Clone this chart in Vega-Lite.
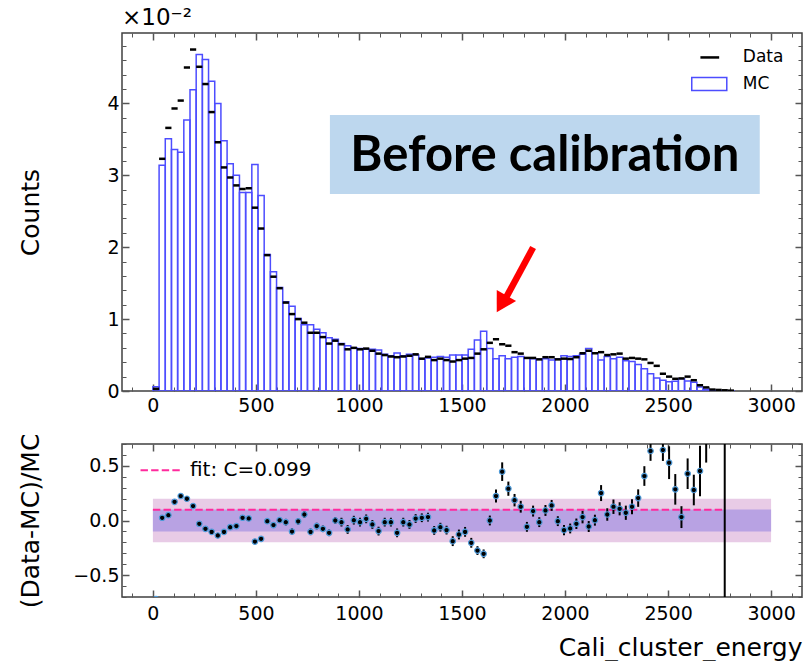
{
  "$schema": "https://vega.github.io/schema/vega-lite/v6.json",
  "background": "white",
  "padding": {"left": 17, "top": 6, "right": 0, "bottom": 0},
  "spacing": 13,
  "config": {
    "font": "DejaVu Sans",
    "view": {"stroke": "#404040", "strokeWidth": 1.5},
    "axis": {"domain": false, "grid": false, "tickColor": "#555555", "labelFont": "DejaVu Sans", "labelFontSize": 19, "labelColor": "#000000", "titleFont": "DejaVu Sans", "titleFontSize": 25, "titleFontWeight": "normal", "titleColor": "#000000", "labelOverlap": false, "labelFlush": false}
  },
  "datasets": {
    "hist": [
      {"e0":0,"e1":30,"mc":0.0006,"data":0.0003},
      {"e0":30,"e1":60,"mc":0.0314,"data":0.0323},
      {"e0":60,"e1":90,"mc":0.0351,"data":0.0366},
      {"e0":90,"e1":120,"mc":0.0336,"data":0.0393},
      {"e0":120,"e1":150,"mc":0.0332,"data":0.0404},
      {"e0":150,"e1":180,"mc":0.0377,"data":0.0450},
      {"e0":180,"e1":210,"mc":0.0419,"data":0.0475},
      {"e0":210,"e1":240,"mc":0.0468,"data":0.0451},
      {"e0":240,"e1":270,"mc":0.0461,"data":0.0427},
      {"e0":270,"e1":300,"mc":0.0431,"data":0.0388},
      {"e0":300,"e1":330,"mc":0.0400,"data":0.0346},
      {"e0":330,"e1":360,"mc":0.0348,"data":0.0311},
      {"e0":360,"e1":390,"mc":0.0316,"data":0.0297},
      {"e0":390,"e1":420,"mc":0.0300,"data":0.0286},
      {"e0":420,"e1":450,"mc":0.0276,"data":0.0281},
      {"e0":450,"e1":480,"mc":0.0276,"data":0.0282},
      {"e0":480,"e1":510,"mc":0.0315,"data":0.0255},
      {"e0":510,"e1":540,"mc":0.0272,"data":0.0226},
      {"e0":540,"e1":570,"mc":0.0190,"data":0.0189},
      {"e0":570,"e1":600,"mc":0.0166,"data":0.0159},
      {"e0":600,"e1":630,"mc":0.0144,"data":0.0143},
      {"e0":630,"e1":660,"mc":0.0124,"data":0.0123},
      {"e0":660,"e1":690,"mc":0.0118,"data":0.0107},
      {"e0":690,"e1":720,"mc":0.0101,"data":0.0100},
      {"e0":720,"e1":750,"mc":0.0092,"data":0.0095},
      {"e0":750,"e1":780,"mc":0.0092,"data":0.0081},
      {"e0":780,"e1":810,"mc":0.0086,"data":0.0081},
      {"e0":810,"e1":840,"mc":0.0081,"data":0.0075},
      {"e0":840,"e1":870,"mc":0.0074,"data":0.0066},
      {"e0":870,"e1":900,"mc":0.0072,"data":0.0070},
      {"e0":900,"e1":930,"mc":0.0066,"data":0.0065},
      {"e0":930,"e1":960,"mc":0.0063,"data":0.0058},
      {"e0":960,"e1":990,"mc":0.0060,"data":0.0060},
      {"e0":990,"e1":1020,"mc":0.0059,"data":0.0058},
      {"e0":1020,"e1":1050,"mc":0.0058,"data":0.0059},
      {"e0":1050,"e1":1080,"mc":0.0058,"data":0.0056},
      {"e0":1080,"e1":1110,"mc":0.0057,"data":0.0052},
      {"e0":1110,"e1":1140,"mc":0.0051,"data":0.0050},
      {"e0":1140,"e1":1170,"mc":0.0049,"data":0.0048},
      {"e0":1170,"e1":1200,"mc":0.0053,"data":0.0047},
      {"e0":1200,"e1":1230,"mc":0.0049,"data":0.0048},
      {"e0":1230,"e1":1260,"mc":0.0051,"data":0.0049},
      {"e0":1260,"e1":1290,"mc":0.0050,"data":0.0051},
      {"e0":1290,"e1":1320,"mc":0.0044,"data":0.0045},
      {"e0":1320,"e1":1350,"mc":0.0046,"data":0.00475},
      {"e0":1350,"e1":1380,"mc":0.0047,"data":0.0043},
      {"e0":1380,"e1":1410,"mc":0.0048,"data":0.0045},
      {"e0":1410,"e1":1440,"mc":0.0047,"data":0.0043},
      {"e0":1440,"e1":1470,"mc":0.0050,"data":0.0041},
      {"e0":1470,"e1":1500,"mc":0.0050,"data":0.0043},
      {"e0":1500,"e1":1530,"mc":0.0050,"data":0.0045},
      {"e0":1530,"e1":1560,"mc":0.0058,"data":0.0046},
      {"e0":1560,"e1":1590,"mc":0.0071,"data":0.0052},
      {"e0":1590,"e1":1620,"mc":0.0083,"data":0.0058},
      {"e0":1620,"e1":1650,"mc":0.0059,"data":0.0067},
      {"e0":1650,"e1":1680,"mc":0.0045,"data":0.0072},
      {"e0":1680,"e1":1710,"mc":0.0049,"data":0.0065},
      {"e0":1710,"e1":1740,"mc":0.0045,"data":0.0063},
      {"e0":1740,"e1":1770,"mc":0.0047,"data":0.0054},
      {"e0":1770,"e1":1800,"mc":0.0048,"data":0.0052},
      {"e0":1800,"e1":1830,"mc":0.0046,"data":0.0046},
      {"e0":1830,"e1":1860,"mc":0.0045,"data":0.0046},
      {"e0":1860,"e1":1890,"mc":0.0044,"data":0.0044},
      {"e0":1890,"e1":1920,"mc":0.0045,"data":0.0047},
      {"e0":1920,"e1":1950,"mc":0.0043,"data":0.0047},
      {"e0":1950,"e1":1980,"mc":0.0045,"data":0.0044},
      {"e0":1980,"e1":2010,"mc":0.0049,"data":0.0045},
      {"e0":2010,"e1":2040,"mc":0.0048,"data":0.00445},
      {"e0":2040,"e1":2070,"mc":0.0049,"data":0.0047},
      {"e0":2070,"e1":2100,"mc":0.0051,"data":0.00525},
      {"e0":2100,"e1":2130,"mc":0.0059,"data":0.0056},
      {"e0":2130,"e1":2160,"mc":0.00525,"data":0.00525},
      {"e0":2160,"e1":2190,"mc":0.0043,"data":0.0054},
      {"e0":2190,"e1":2220,"mc":0.0048,"data":0.0050},
      {"e0":2220,"e1":2250,"mc":0.0045,"data":0.0051},
      {"e0":2250,"e1":2280,"mc":0.0047,"data":0.0052},
      {"e0":2280,"e1":2310,"mc":0.0042,"data":0.0045},
      {"e0":2310,"e1":2340,"mc":0.0041,"data":0.0046},
      {"e0":2340,"e1":2370,"mc":0.0037,"data":0.0045},
      {"e0":2370,"e1":2400,"mc":0.0031,"data":0.0044},
      {"e0":2400,"e1":2430,"mc":0.0024,"data":0.0039},
      {"e0":2430,"e1":2460,"mc":0.0018,"data":0.0035},
      {"e0":2460,"e1":2490,"mc":0.0015,"data":0.0024},
      {"e0":2490,"e1":2520,"mc":0.0013,"data":0.0020},
      {"e0":2520,"e1":2550,"mc":0.00135,"data":0.0017},
      {"e0":2550,"e1":2580,"mc":0.0017,"data":0.00175},
      {"e0":2580,"e1":2610,"mc":0.0014,"data":0.0020},
      {"e0":2610,"e1":2640,"mc":0.0012,"data":0.0015},
      {"e0":2640,"e1":2670,"mc":0.00055,"data":0.0008},
      {"e0":2670,"e1":2700,"mc":0.00026,"data":0.0005},
      {"e0":2700,"e1":2730,"mc":0.0001,"data":0.0002},
      {"e0":2730,"e1":2760,"mc":0.00006,"data":0.00015},
      {"e0":2760,"e1":2790,"mc":0.00003,"data":0.0001},
      {"e0":2790,"e1":2820,"mc":0.00002,"data":0.00005}
    ],
    "ratio": [
      {"x":15,"r":-0.72,"err":0.03},
      {"x":45,"r":0.025,"err":0.015},
      {"x":75,"r":0.049,"err":0.015},
      {"x":105,"r":0.171,"err":0.015},
      {"x":135,"r":0.224,"err":0.015},
      {"x":165,"r":0.199,"err":0.015},
      {"x":195,"r":0.132,"err":0.015},
      {"x":225,"r":-0.030,"err":0.015},
      {"x":255,"r":-0.076,"err":0.015},
      {"x":285,"r":-0.104,"err":0.015},
      {"x":315,"r":-0.137,"err":0.015},
      {"x":345,"r":-0.104,"err":0.02},
      {"x":375,"r":-0.061,"err":0.02},
      {"x":405,"r":-0.051,"err":0.02},
      {"x":435,"r":0.025,"err":0.02},
      {"x":465,"r":0.019,"err":0.02},
      {"x":495,"r":-0.193,"err":0.02},
      {"x":525,"r":-0.168,"err":0.02},
      {"x":555,"r":-0.006,"err":0.02},
      {"x":585,"r":-0.042,"err":0.02},
      {"x":615,"r":0.003,"err":0.02},
      {"x":645,"r":-0.015,"err":0.03},
      {"x":675,"r":-0.101,"err":0.03},
      {"x":705,"r":-0.008,"err":0.03},
      {"x":735,"r":0.055,"err":0.03},
      {"x":765,"r":-0.104,"err":0.03},
      {"x":795,"r":-0.051,"err":0.03},
      {"x":825,"r":-0.076,"err":0.03},
      {"x":855,"r":-0.113,"err":0.03},
      {"x":885,"r":0.0,"err":0.03},
      {"x":915,"r":-0.015,"err":0.04},
      {"x":945,"r":-0.082,"err":0.04},
      {"x":975,"r":0.003,"err":0.04},
      {"x":1005,"r":-0.015,"err":0.04},
      {"x":1035,"r":0.015,"err":0.04},
      {"x":1065,"r":-0.036,"err":0.04},
      {"x":1095,"r":-0.097,"err":0.04},
      {"x":1125,"r":-0.015,"err":0.04},
      {"x":1155,"r":-0.015,"err":0.04},
      {"x":1185,"r":-0.113,"err":0.04},
      {"x":1215,"r":-0.015,"err":0.04},
      {"x":1245,"r":-0.036,"err":0.04},
      {"x":1275,"r":0.018,"err":0.04},
      {"x":1305,"r":0.025,"err":0.04},
      {"x":1335,"r":0.031,"err":0.04},
      {"x":1365,"r":-0.091,"err":0.04},
      {"x":1395,"r":-0.061,"err":0.04},
      {"x":1425,"r":-0.088,"err":0.04},
      {"x":1455,"r":-0.189,"err":0.045},
      {"x":1485,"r":-0.128,"err":0.045},
      {"x":1515,"r":-0.104,"err":0.045},
      {"x":1545,"r":-0.204,"err":0.045},
      {"x":1575,"r":-0.275,"err":0.04},
      {"x":1605,"r":-0.305,"err":0.04},
      {"x":1635,"r":0.0,"err":0.045},
      {"x":1665,"r":0.224,"err":0.06},
      {"x":1695,"r":0.447,"err":0.085},
      {"x":1725,"r":0.291,"err":0.065},
      {"x":1755,"r":0.186,"err":0.057},
      {"x":1785,"r":0.126,"err":0.054},
      {"x":1815,"r":-0.058,"err":0.045},
      {"x":1845,"r":0.086,"err":0.05},
      {"x":1875,"r":-0.015,"err":0.045},
      {"x":1905,"r":0.092,"err":0.05},
      {"x":1935,"r":0.138,"err":0.05},
      {"x":1965,"r":-0.006,"err":0.045},
      {"x":1995,"r":-0.088,"err":0.046},
      {"x":2025,"r":-0.073,"err":0.045},
      {"x":2055,"r":-0.030,"err":0.048},
      {"x":2085,"r":0.031,"err":0.057},
      {"x":2115,"r":-0.055,"err":0.05},
      {"x":2145,"r":0.003,"err":0.05},
      {"x":2175,"r":0.251,"err":0.073},
      {"x":2205,"r":0.055,"err":0.057},
      {"x":2235,"r":0.126,"err":0.066},
      {"x":2265,"r":0.107,"err":0.06},
      {"x":2295,"r":0.071,"err":0.065},
      {"x":2325,"r":0.126,"err":0.069},
      {"x":2355,"r":0.205,"err":0.08},
      {"x":2385,"r":0.407,"err":0.09},
      {"x":2415,"r":0.636,"err":0.09},
      {"x":2445,"r":1.0,"err":0.12},
      {"x":2475,"r":0.645,"err":0.1},
      {"x":2505,"r":0.529,"err":0.15},
      {"x":2535,"r":0.285,"err":0.14},
      {"x":2565,"r":0.031,"err":0.1},
      {"x":2595,"r":0.428,"err":0.14},
      {"x":2625,"r":0.279,"err":0.14},
      {"x":2655,"r":0.453,"err":0.23},
      {"x":2685,"r":0.9,"err":0.37}
    ]
  },
  "vconcat": [
    {
      "width": 680,
      "height": 358,
      "title": {"text": "×10⁻²", "anchor": "start", "frame": "group", "fontSize": 23, "fontWeight": "normal", "font": "DejaVu Sans", "color": "#000000", "offset": 2},
      "layer": [
        {
          "data": {"name": "hist"},
          "mark": {"type": "rect", "fill": "transparent", "stroke": "#4d4dff", "strokeWidth": 1.5, "clip": true},
          "encoding": {
            "x": {"field": "e0", "type": "quantitative", "scale": {"domain": [-150, 3150], "nice": false, "zero": false},
              "axis": {"orient": "bottom", "values": [-100,0,100,200,300,400,500,600,700,800,900,1000,1100,1200,1300,1400,1500,1600,1700,1800,1900,2000,2100,2200,2300,2400,2500,2600,2700,2800,2900,3000,3100],
                "tickSize": {"condition": {"test": "datum.value % 500 === 0", "value": -7}, "value": -4},
                "tickWidth": {"condition": {"test": "datum.value % 500 === 0", "value": 1.5}, "value": 1},
                "labelExpr": "datum.value % 500 === 0 ? datum.label : ''", "format": "d", "labelPadding": 12, "title": null}},
            "x2": {"field": "e1"},
            "y": {"field": "mc", "type": "quantitative", "scale": {"domain": [0, 0.0498], "nice": false, "zero": false},
              "axis": {"orient": "left", "values": [0,0.002,0.004,0.006,0.008,0.01,0.012,0.014,0.016,0.018,0.02,0.022,0.024,0.026,0.028,0.03,0.032,0.034,0.036,0.038,0.04,0.042,0.044,0.046,0.048],
                "tickSize": {"condition": {"test": "abs(datum.value*100 - round(datum.value*100)) < 1e-6", "value": -7}, "value": -4},
                "tickWidth": {"condition": {"test": "abs(datum.value*100 - round(datum.value*100)) < 1e-6", "value": 1.5}, "value": 1},
                "labelExpr": "abs(datum.value*100 - round(datum.value*100)) < 1e-6 ? format(datum.value*100, 'd') : ''",
                "labelPadding": 10, "title": "Counts", "titleX": -92, "titleBaseline": "middle"}},
            "y2": {"datum": 0}
          }
        },
        {
          "data": {"name": "hist"},
          "mark": {"type": "rule", "color": "#000000", "strokeWidth": 2.5, "clip": true},
          "encoding": {
            "x": {"field": "e0", "type": "quantitative", "scale": {"domain": [-150, 3150], "nice": false, "zero": false},
              "axis": {"orient": "top", "values": [-100,0,100,200,300,400,500,600,700,800,900,1000,1100,1200,1300,1400,1500,1600,1700,1800,1900,2000,2100,2200,2300,2400,2500,2600,2700,2800,2900,3000,3100],
                "tickSize": {"condition": {"test": "datum.value % 500 === 0", "value": -7}, "value": -4},
                "tickWidth": {"condition": {"test": "datum.value % 500 === 0", "value": 1.5}, "value": 1},
                "labels": false, "title": null}},
            "x2": {"field": "e1"},
            "y": {"field": "data", "type": "quantitative", "scale": {"domain": [0, 0.0498], "nice": false, "zero": false},
              "axis": {"orient": "right", "values": [0,0.002,0.004,0.006,0.008,0.01,0.012,0.014,0.016,0.018,0.02,0.022,0.024,0.026,0.028,0.03,0.032,0.034,0.036,0.038,0.04,0.042,0.044,0.046,0.048],
                "tickSize": {"condition": {"test": "abs(datum.value*100 - round(datum.value*100)) < 1e-6", "value": -7}, "value": -4},
                "tickWidth": {"condition": {"test": "abs(datum.value*100 - round(datum.value*100)) < 1e-6", "value": 1.5}, "value": 1},
                "labels": false, "title": null}}
          }
        },
        {
          "data": {"values": [{}]},
          "mark": {"type": "rect", "fill": "#bdd7ee"},
          "encoding": {
            "x": {"datum": 859, "type": "quantitative", "axis": null}, "x2": {"datum": 2945},
            "y": {"datum": 0.0384, "type": "quantitative", "axis": null}, "y2": {"datum": 0.0274}
          }
        },
        {
          "data": {"values": [{}]},
          "mark": {"type": "text", "text": "Before calibration", "font": "Lato", "fontWeight": "bold", "fontSize": 49, "color": "#000000", "align": "center", "baseline": "middle"},
          "encoding": {
            "x": {"datum": 1902, "type": "quantitative", "axis": null},
            "y": {"datum": 0.0327, "type": "quantitative", "axis": null}
          }
        },
        {
          "data": {"values": [{}]},
          "mark": {"type": "rule", "color": "#ff0000", "strokeWidth": 6.5},
          "encoding": {
            "x": {"datum": 1845, "type": "quantitative", "axis": null}, "x2": {"datum": 1713},
            "y": {"datum": 0.01996, "type": "quantitative", "axis": null}, "y2": {"datum": 0.01295}
          }
        },
        {
          "data": {"values": [{}]},
          "mark": {"type": "point", "shape": "triangle-up", "filled": true, "color": "#ff0000", "opacity": 1, "size": 500, "angle": 210},
          "encoding": {
            "x": {"datum": 1692, "type": "quantitative", "axis": null},
            "y": {"datum": 0.01212, "type": "quantitative", "axis": null}
          }
        },
        {
          "data": {"values": [{}]},
          "mark": {"type": "rule", "color": "#000000", "strokeWidth": 2.5},
          "encoding": {
            "x": {"datum": 2657, "type": "quantitative", "axis": null}, "x2": {"datum": 2748},
            "y": {"datum": 0.0464, "type": "quantitative", "axis": null}
          }
        },
        {
          "data": {"values": [{}]},
          "mark": {"type": "rect", "fill": "transparent", "stroke": "#4d4dff", "strokeWidth": 1.5},
          "encoding": {
            "x": {"datum": 2615, "type": "quantitative", "axis": null}, "x2": {"datum": 2785},
            "y": {"datum": 0.0436, "type": "quantitative", "axis": null}, "y2": {"datum": 0.0418}
          }
        },
        {
          "data": {"values": [{}]},
          "mark": {"type": "text", "text": "Data", "fontSize": 17, "align": "left", "baseline": "middle", "color": "#000000"},
          "encoding": {
            "x": {"datum": 2863, "type": "quantitative", "axis": null},
            "y": {"datum": 0.0464, "type": "quantitative", "axis": null}
          }
        },
        {
          "data": {"values": [{}]},
          "mark": {"type": "text", "text": "MC", "fontSize": 17, "align": "left", "baseline": "middle", "color": "#000000"},
          "encoding": {
            "x": {"datum": 2863, "type": "quantitative", "axis": null},
            "y": {"datum": 0.0427, "type": "quantitative", "axis": null}
          }
        }
      ],
      "resolve": {"axis": {"x": "independent", "y": "independent"}}
    },
    {
      "width": 680,
      "height": 153,
      "layer": [
        {
          "data": {"values": [{}]},
          "mark": {"type": "rect", "fill": "#e8cbe6"},
          "encoding": {
            "x": {"datum": 0, "type": "quantitative", "axis": null, "scale": {"domain": [-150, 3150], "nice": false, "zero": false}}, "x2": {"datum": 3000},
            "y": {"datum": -0.2, "type": "quantitative", "axis": null, "scale": {"domain": [-0.7, 0.7], "nice": false, "zero": false}}, "y2": {"datum": 0.2}
          }
        },
        {
          "data": {"values": [{}]},
          "mark": {"type": "rect", "fill": "#b8a2e3"},
          "encoding": {
            "x": {"datum": 0, "type": "quantitative", "axis": null}, "x2": {"datum": 3000},
            "y": {"datum": -0.1, "type": "quantitative", "axis": null}, "y2": {"datum": 0.1}
          }
        },
        {
          "data": {"values": [{}]},
          "mark": {"type": "rule", "color": "#ff2a9d", "strokeWidth": 2, "strokeDash": [7.4, 3.2]},
          "encoding": {
            "x": {"datum": 0, "type": "quantitative", "axis": null}, "x2": {"datum": 2775},
            "y": {"datum": 0.099, "type": "quantitative", "axis": null}
          }
        },
        {
          "data": {"values": [{}]},
          "mark": {"type": "rule", "color": "#ff2a9d", "strokeWidth": 2, "strokeDash": [7.4, 3.2]},
          "encoding": {
            "x": {"datum": -60, "type": "quantitative", "axis": null}, "x2": {"datum": 131},
            "y": {"datum": 0.459, "type": "quantitative", "axis": null}
          }
        },
        {
          "data": {"values": [{}]},
          "mark": {"type": "text", "text": "fit: C=0.099", "fontSize": 20, "align": "left", "baseline": "middle", "color": "#000000"},
          "encoding": {
            "x": {"datum": 180, "type": "quantitative", "axis": null},
            "y": {"datum": 0.459, "type": "quantitative", "axis": null}
          }
        },
        {
          "data": {"name": "ratio"},
          "mark": {"type": "errorbar", "color": "#000000", "thickness": 2, "clip": true},
          "encoding": {
            "x": {"field": "x", "type": "quantitative",
              "axis": {"orient": "top", "values": [-100,0,100,200,300,400,500,600,700,800,900,1000,1100,1200,1300,1400,1500,1600,1700,1800,1900,2000,2100,2200,2300,2400,2500,2600,2700,2800,2900,3000,3100],
                "tickSize": {"condition": {"test": "datum.value % 500 === 0", "value": -7}, "value": -4},
                "tickWidth": {"condition": {"test": "datum.value % 500 === 0", "value": 1.5}, "value": 1},
                "labels": false, "title": null}},
            "y": {"field": "r", "type": "quantitative",
              "axis": {"orient": "right", "values": [-0.7,-0.6,-0.5,-0.4,-0.3,-0.2,-0.1,0,0.1,0.2,0.3,0.4,0.5,0.6,0.7],
                "tickSize": {"condition": {"test": "abs(datum.value*2 - round(datum.value*2)) < 1e-6", "value": -7}, "value": -4},
                "tickWidth": {"condition": {"test": "abs(datum.value*2 - round(datum.value*2)) < 1e-6", "value": 1.5}, "value": 1},
                "labels": false, "title": null}},
            "yError": {"field": "err"}
          }
        },
        {
          "data": {"name": "ratio"},
          "mark": {"type": "point", "shape": "circle", "filled": true, "fill": "#000000", "stroke": "#4f9bd9", "strokeWidth": 1.2, "size": 30, "opacity": 1, "clip": true},
          "encoding": {
            "x": {"field": "x", "type": "quantitative",
              "axis": {"orient": "bottom", "values": [-100,0,100,200,300,400,500,600,700,800,900,1000,1100,1200,1300,1400,1500,1600,1700,1800,1900,2000,2100,2200,2300,2400,2500,2600,2700,2800,2900,3000,3100],
                "tickSize": {"condition": {"test": "datum.value % 500 === 0", "value": -7}, "value": -4},
                "tickWidth": {"condition": {"test": "datum.value % 500 === 0", "value": 1.5}, "value": 1},
                "labelExpr": "datum.value % 500 === 0 ? datum.label : ''", "format": "d", "labelPadding": 14,
                "title": "Cali_cluster_energy", "titleAnchor": "end", "titlePadding": 9}},
            "y": {"field": "r", "type": "quantitative",
              "axis": {"orient": "left", "values": [-0.7,-0.6,-0.5,-0.4,-0.3,-0.2,-0.1,0,0.1,0.2,0.3,0.4,0.5,0.6,0.7],
                "tickSize": {"condition": {"test": "abs(datum.value*2 - round(datum.value*2)) < 1e-6", "value": -7}, "value": -4},
                "tickWidth": {"condition": {"test": "abs(datum.value*2 - round(datum.value*2)) < 1e-6", "value": 1.5}, "value": 1},
                "labelExpr": "abs(datum.value*2 - round(datum.value*2)) < 1e-6 ? format(datum.value, '.1f') : ''",
                "labelPadding": 10, "title": "(Data-MC)/MC", "titleX": -92, "titleBaseline": "middle"}}
          }
        },
        {
          "data": {"values": [{}]},
          "mark": {"type": "rule", "color": "#000000", "strokeWidth": 2},
          "encoding": {
            "x": {"datum": 2775, "type": "quantitative", "axis": null}
          }
        }
      ],
      "resolve": {"axis": {"x": "independent", "y": "independent"}}
    }
  ]
}
